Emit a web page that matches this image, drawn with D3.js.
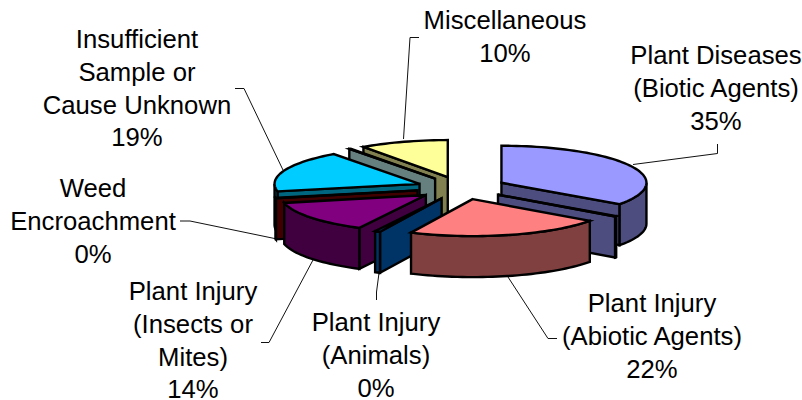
<!DOCTYPE html>
<html>
<head>
<meta charset="utf-8">
<script src="https://cdn.jsdelivr.net/npm/d3@7"></script>
<style>
	html, body { margin: 0; padding: 0; background: #fff; }
	svg { display: block; }
</style>
</head>
<body>
<div id="chart"></div>
<script>
// slices clockwise from 12 o'clock, two of them have no label in the picture
var categories = [
	["Plant Diseases", "(Biotic Agents)"],
	[],
	["Plant Injury", "(Abiotic Agents)"],
	["Plant Injury", "(Animals)"],
	["Plant Injury", "(Insects or", "Mites)"],
	["Weed", "Encroachment"],
	["Insufficient", "Sample or", "Cause Unknown"],
	[],
	["Miscellaneous"]
];
var values = [34.9, 0.2, 22, 0.6, 14, 0.2, 18.2, 0.2, 9.9];
var percentLabels = ["35%", "", "22%", "0%", "14%", "0%", "19%", "", "10%"];

function init(){

	var w = 802;
	var h = 400;

	var cx = 461.5;      // pie centre before the slices are pulled out
	var cy = 188;
	var rx = 145;
	var ry = 37;
	var depth = 41;
	var explode = 0.31;  // pull-out, in radii

	var topColors = ["#9999ff", "#9999ff", "#ff8080", "#0066cc", "#800080", "#800000", "#00ccff", "#ccffff", "#ffff99"];
	var wallColors = ["#4d4d80", "#4d4d80", "#804040", "#003366", "#400040", "#400000", "#006680", "#668080", "#808050"];

	// back to front
	var drawOrder = [8, 7, 6, 5, 4, 3, 0, 1, 2];

	// centre x and first baseline for each label
	var labelPlace = {
		0: [716, 64],
		2: [652, 312],
		3: [376, 331],
		4: [193, 300],
		5: [93, 197],
		6: [137, 48],
		8: [505, 29]
	};
	var lineStep = 32.8;

	var leaderLines = [
		[[633, 164.5], [717.5, 153.5], [717.5, 144]],
		[[508, 277], [548, 338.5], [557, 338.5]],
		[[379, 273], [376.5, 292], [376.5, 300]],
		[[313, 260], [269, 342.5], [261, 342.5]],
		[[277, 239], [190, 221], [180, 221]],
		[[283, 170], [244, 88.5], [235, 88.5]],
		[[403.5, 139], [410, 37.5], [419, 37.5]]
	];

	var xScale = d3.scaleLinear().domain([-1, 1]).range([cx - rx, cx + rx]);
	var yScale = d3.scaleLinear().domain([-1, 1]).range([cy + ry, cy - ry]);

	var pie = d3.pie().sort(null).value(function(d){ return d; });
	var arcs = pie(values);

	var svg = d3.select("#chart")
				.append("svg")
				.attr("width", w)
				.attr("height", h);

	var line = d3.line();

	// point on the rim (or the apex when r is 0) of a pulled out slice
	function point(d, a, r, drop){
		var mid = (d.startAngle + d.endAngle) / 2;
		return [
			xScale(explode * Math.sin(mid) + r * Math.sin(a)),
			yScale(explode * Math.cos(mid) + r * Math.cos(a)) + drop
		];
	}

	function rim(d, a0, a1, drop){
		var step = Math.PI / 90;
		return d3.range(a0, a1, step).concat([a1]).map(function(a){
			return point(d, a, 1, drop);
		});
	}

	function polygon(pts, fill){
		svg.append("path")
			.attr("d", line(pts) + "Z")
			.attr("fill", fill)
			.attr("stroke", "#000")
			.attr("stroke-width", 2.4)
			.attr("stroke-linejoin", "miter");
	}

	// leader lines go under the pie
	leaderLines.forEach(function(l){
		svg.append("path")
			.attr("d", line(l))
			.attr("fill", "none")
			.attr("stroke", "#111")
			.attr("stroke-width", 1);
	});

	drawOrder.forEach(function(i){
		var d = arcs[i];
		var apex = point(d, 0, 0, 0);
		var apexLow = point(d, 0, 0, depth);
		var PI = Math.PI;

		// cut face that looks at the viewer
		if (d.startAngle >= PI) {
			polygon([apex, point(d, d.startAngle, 1, 0), point(d, d.startAngle, 1, depth), apexLow], wallColors[i]);
		}
		if (d.endAngle <= PI) {
			polygon([apex, point(d, d.endAngle, 1, 0), point(d, d.endAngle, 1, depth), apexLow], wallColors[i]);
		}

		// outer wall, only the front half of the ellipse shows
		var a0 = Math.max(d.startAngle, PI / 2);
		var a1 = Math.min(d.endAngle, PI * 1.5);
		if (a1 > a0) {
			polygon(rim(d, a0, a1, 0).concat(rim(d, a0, a1, depth).reverse()), wallColors[i]);
		}

		polygon([apex].concat(rim(d, d.startAngle, d.endAngle, 0)), topColors[i]);
	});

	// labels
	categories.forEach(function(lines, i){
		if (!labelPlace[i]) return;
		var rows = lines.concat([percentLabels[i]]);
		svg.append("g")
			.selectAll("text")
			.data(rows)
			.enter()
			.append("text")
			.attr("x", labelPlace[i][0])
			.attr("y", function(t, j){ return labelPlace[i][1] + j * lineStep; })
			.attr("text-anchor", "middle")
			.attr("font-family", "'Liberation Sans', Arial, sans-serif")
			.attr("font-size", 25.7)
			.attr("fill", "#000")
			.text(function(t){ return t; });
	});
}

window.onload = init;
</script>
</body>
</html>
